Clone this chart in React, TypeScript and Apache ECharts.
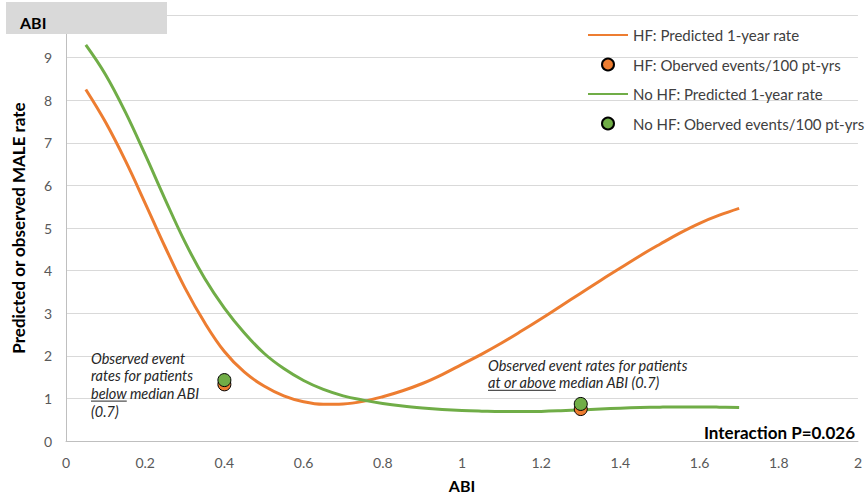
import React, { useEffect, useRef } from "react";
import * as echarts from "echarts";

const abi = [0.05, 0.1, 0.15, 0.2, 0.25, 0.3, 0.35, 0.4, 0.45, 0.5, 0.55, 0.6, 0.65, 0.7, 0.75, 0.8, 0.85, 0.9, 0.95, 1.0, 1.05, 1.1, 1.15, 1.2, 1.25, 1.3, 1.35, 1.4, 1.45, 1.5, 1.55, 1.6, 1.65, 1.7];
const hfPredicted = [8.25, 7.48, 6.58, 5.58, 4.56, 3.6, 2.78, 2.1, 1.62, 1.29, 1.06, 0.92, 0.86, 0.87, 0.93, 1.04, 1.18, 1.35, 1.56, 1.8, 2.04, 2.3, 2.58, 2.87, 3.17, 3.47, 3.77, 4.06, 4.35, 4.62, 4.88, 5.11, 5.3, 5.46];
const noHfPredicted = [9.3, 8.6, 7.72, 6.72, 5.68, 4.68, 3.82, 3.12, 2.54, 2.06, 1.7, 1.42, 1.21, 1.06, 0.96, 0.88, 0.82, 0.775, 0.74, 0.715, 0.7, 0.69, 0.69, 0.695, 0.71, 0.73, 0.75, 0.77, 0.785, 0.795, 0.8, 0.8, 0.795, 0.785];
const observedAbi = [0.4, 1.3];
const hfObserved = [1.33, 0.75];
const noHfObserved = [1.43, 0.87];
const seriesNames = [
  "HF: Predicted 1-year rate",
  "HF: Oberved events/100 pt-yrs",
  "No HF: Predicted 1-year rate",
  "No HF: Oberved events/100 pt-yrs",
];

const ORANGE = "#ED7D31";
const GREEN = "#70AD47";
const FONT = "Lato, 'Noto Sans', sans-serif";

function textWidth(text: string, font: string): number {
  const c = document.createElement("canvas").getContext("2d");
  if (!c) return text.length * 6;
  c.font = font;
  return c.measureText(text).width;
}

export default function App() {
  const ref = useRef<HTMLDivElement>(null);
  useEffect(() => {
    if (!ref.current) return;
    const chart = echarts.init(ref.current, null, { renderer: "svg" });
    const annFontSize = 14.5;
    const annFont = `italic ${annFontSize}px Lato`;
    const belowW = textWidth("below", annFont);
    const atAboveW = textWidth("at or above", annFont);
    const annColor = "#262626";
    const leftLines = ["Observed event", "rates for patients", "below median ABI", "(0.7)"];
    const rightLines = ["Observed event rates for patients", "at or above median ABI (0.7)"];
    const lh = 17.8;

    const graphics: any[] = [
      {
        type: "rect",
        z: 100,
        shape: { x: 6, y: 2, width: 161, height: 32 },
        style: { fill: "#d9d9d9" },
      },
      {
        type: "text",
        z: 101,
        x: 20,
        y: 22,
        style: {
          text: "ABI",
          fill: "#000",
          fontSize: 16,
          fontWeight: "bold",
          fontFamily: FONT,
          align: "left",
          verticalAlign: "middle",
        },
      },
      {
        type: "text",
        z: 101,
        x: 855,
        y: 432,
        style: {
          text: "Interaction P=0.026",
          fill: "#000",
          fontSize: 17,
          fontWeight: "bold",
          fontFamily: FONT,
          align: "right",
          verticalAlign: "middle",
        },
      },
    ];
    leftLines.forEach((t, i) => {
      graphics.push({
        type: "text",
        z: 101,
        x: 91,
        y: 358 + i * lh,
        style: {
          text: t,
          fill: annColor,
          fontSize: annFontSize,
          fontStyle: "italic",
          fontFamily: FONT,
          align: "left",
          verticalAlign: "middle",
        },
      });
    });
    rightLines.forEach((t, i) => {
      graphics.push({
        type: "text",
        z: 101,
        x: 488,
        y: 365 + i * lh,
        style: {
          text: t,
          fill: annColor,
          fontSize: annFontSize,
          fontStyle: "italic",
          fontFamily: FONT,
          align: "left",
          verticalAlign: "middle",
        },
      });
    });
    graphics.push({
      type: "line",
      z: 101,
      shape: { x1: 91, y1: 358 + 2 * lh + 7.5, x2: 91 + belowW, y2: 358 + 2 * lh + 7.5 },
      style: { stroke: annColor, lineWidth: 1 },
    });
    graphics.push({
      type: "line",
      z: 101,
      shape: { x1: 488, y1: 365 + lh + 7.5, x2: 488 + atAboveW, y2: 365 + lh + 7.5 },
      style: { stroke: annColor, lineWidth: 1 },
    });

    const option: any = {
      animation: false,
      backgroundColor: "#ffffff",
      textStyle: { fontFamily: FONT },
      grid: { left: 66, right: 7, top: 15, bottom: 63, containLabel: false },
      legend: {
        orient: "vertical",
        left: 582,
        top: 21,
        itemWidth: 40,
        itemHeight: 12,
        itemGap: 11.5,
        data: [
          { name: seriesNames[0], itemStyle: { opacity: 0 } },
          { name: seriesNames[1] },
          { name: seriesNames[2], itemStyle: { opacity: 0 } },
          { name: seriesNames[3] },
        ],
        textStyle: { fontSize: 15, color: "#404040", lineHeight: 18, fontFamily: FONT },
      },
      xAxis: {
        type: "value",
        min: 0,
        max: 2,
        interval: 0.2,
        name: "ABI",
        nameLocation: "middle",
        nameGap: 36,
        nameTextStyle: { fontSize: 16, fontWeight: "bold", color: "#000", fontFamily: FONT },
        axisLine: { show: true, lineStyle: { color: "#bfbfbf", width: 1 } },
        axisTick: { show: false },
        axisLabel: { color: "#595959", fontSize: 14, margin: 14, fontFamily: FONT },
        splitLine: { show: false },
      },
      yAxis: {
        type: "value",
        min: 0,
        max: 10,
        interval: 1,
        name: "Predicted or observed MALE rate",
        nameLocation: "middle",
        nameGap: 39,
        nameRotate: 90,
        nameTextStyle: { fontSize: 17, fontWeight: "bold", color: "#000", fontFamily: FONT },
        axisLine: { show: true, lineStyle: { color: "#bfbfbf", width: 1 } },
        axisTick: { show: false },
        axisLabel: {
          color: "#595959",
          fontSize: 14,
          margin: 14,
          fontFamily: FONT,
          formatter: (v: number) => (v >= 10 ? "" : String(v)),
        },
        splitLine: { show: true, lineStyle: { color: "#d9d9d9", width: 1 } },
      },
      series: [
        {
          name: seriesNames[0],
          type: "line",
          data: abi.map((x, i) => [x, hfPredicted[i]]),
          smooth: 0.4,
          symbol: "none",
          lineStyle: { color: ORANGE, width: 3 },
          itemStyle: { color: ORANGE },
          z: 2,
        },
        {
          name: seriesNames[2],
          type: "line",
          data: abi.map((x, i) => [x, noHfPredicted[i]]),
          smooth: 0.4,
          symbol: "none",
          lineStyle: { color: GREEN, width: 3 },
          itemStyle: { color: GREEN },
          z: 2,
        },
        {
          name: seriesNames[1],
          type: "scatter",
          data: observedAbi.map((x, i) => [x, hfObserved[i]]),
          symbol: "circle",
          symbolSize: 13,
          itemStyle: { color: ORANGE, borderColor: "#000", borderWidth: 1, opacity: 1 },
          z: 3,
        },
        {
          name: seriesNames[3],
          type: "scatter",
          data: observedAbi.map((x, i) => [x, noHfObserved[i]]),
          symbol: "circle",
          symbolSize: 13,
          itemStyle: { color: GREEN, borderColor: "#000", borderWidth: 1, opacity: 1 },
          z: 4,
        },
      ],
      graphic: graphics,
    };
    chart.setOption(option);
    return () => chart.dispose();
  }, []);
  return (
    <div
      ref={ref}
      style={{ position: "fixed", left: 0, top: 0, width: 865, height: 504, background: "#fff" }}
    />
  );
}
